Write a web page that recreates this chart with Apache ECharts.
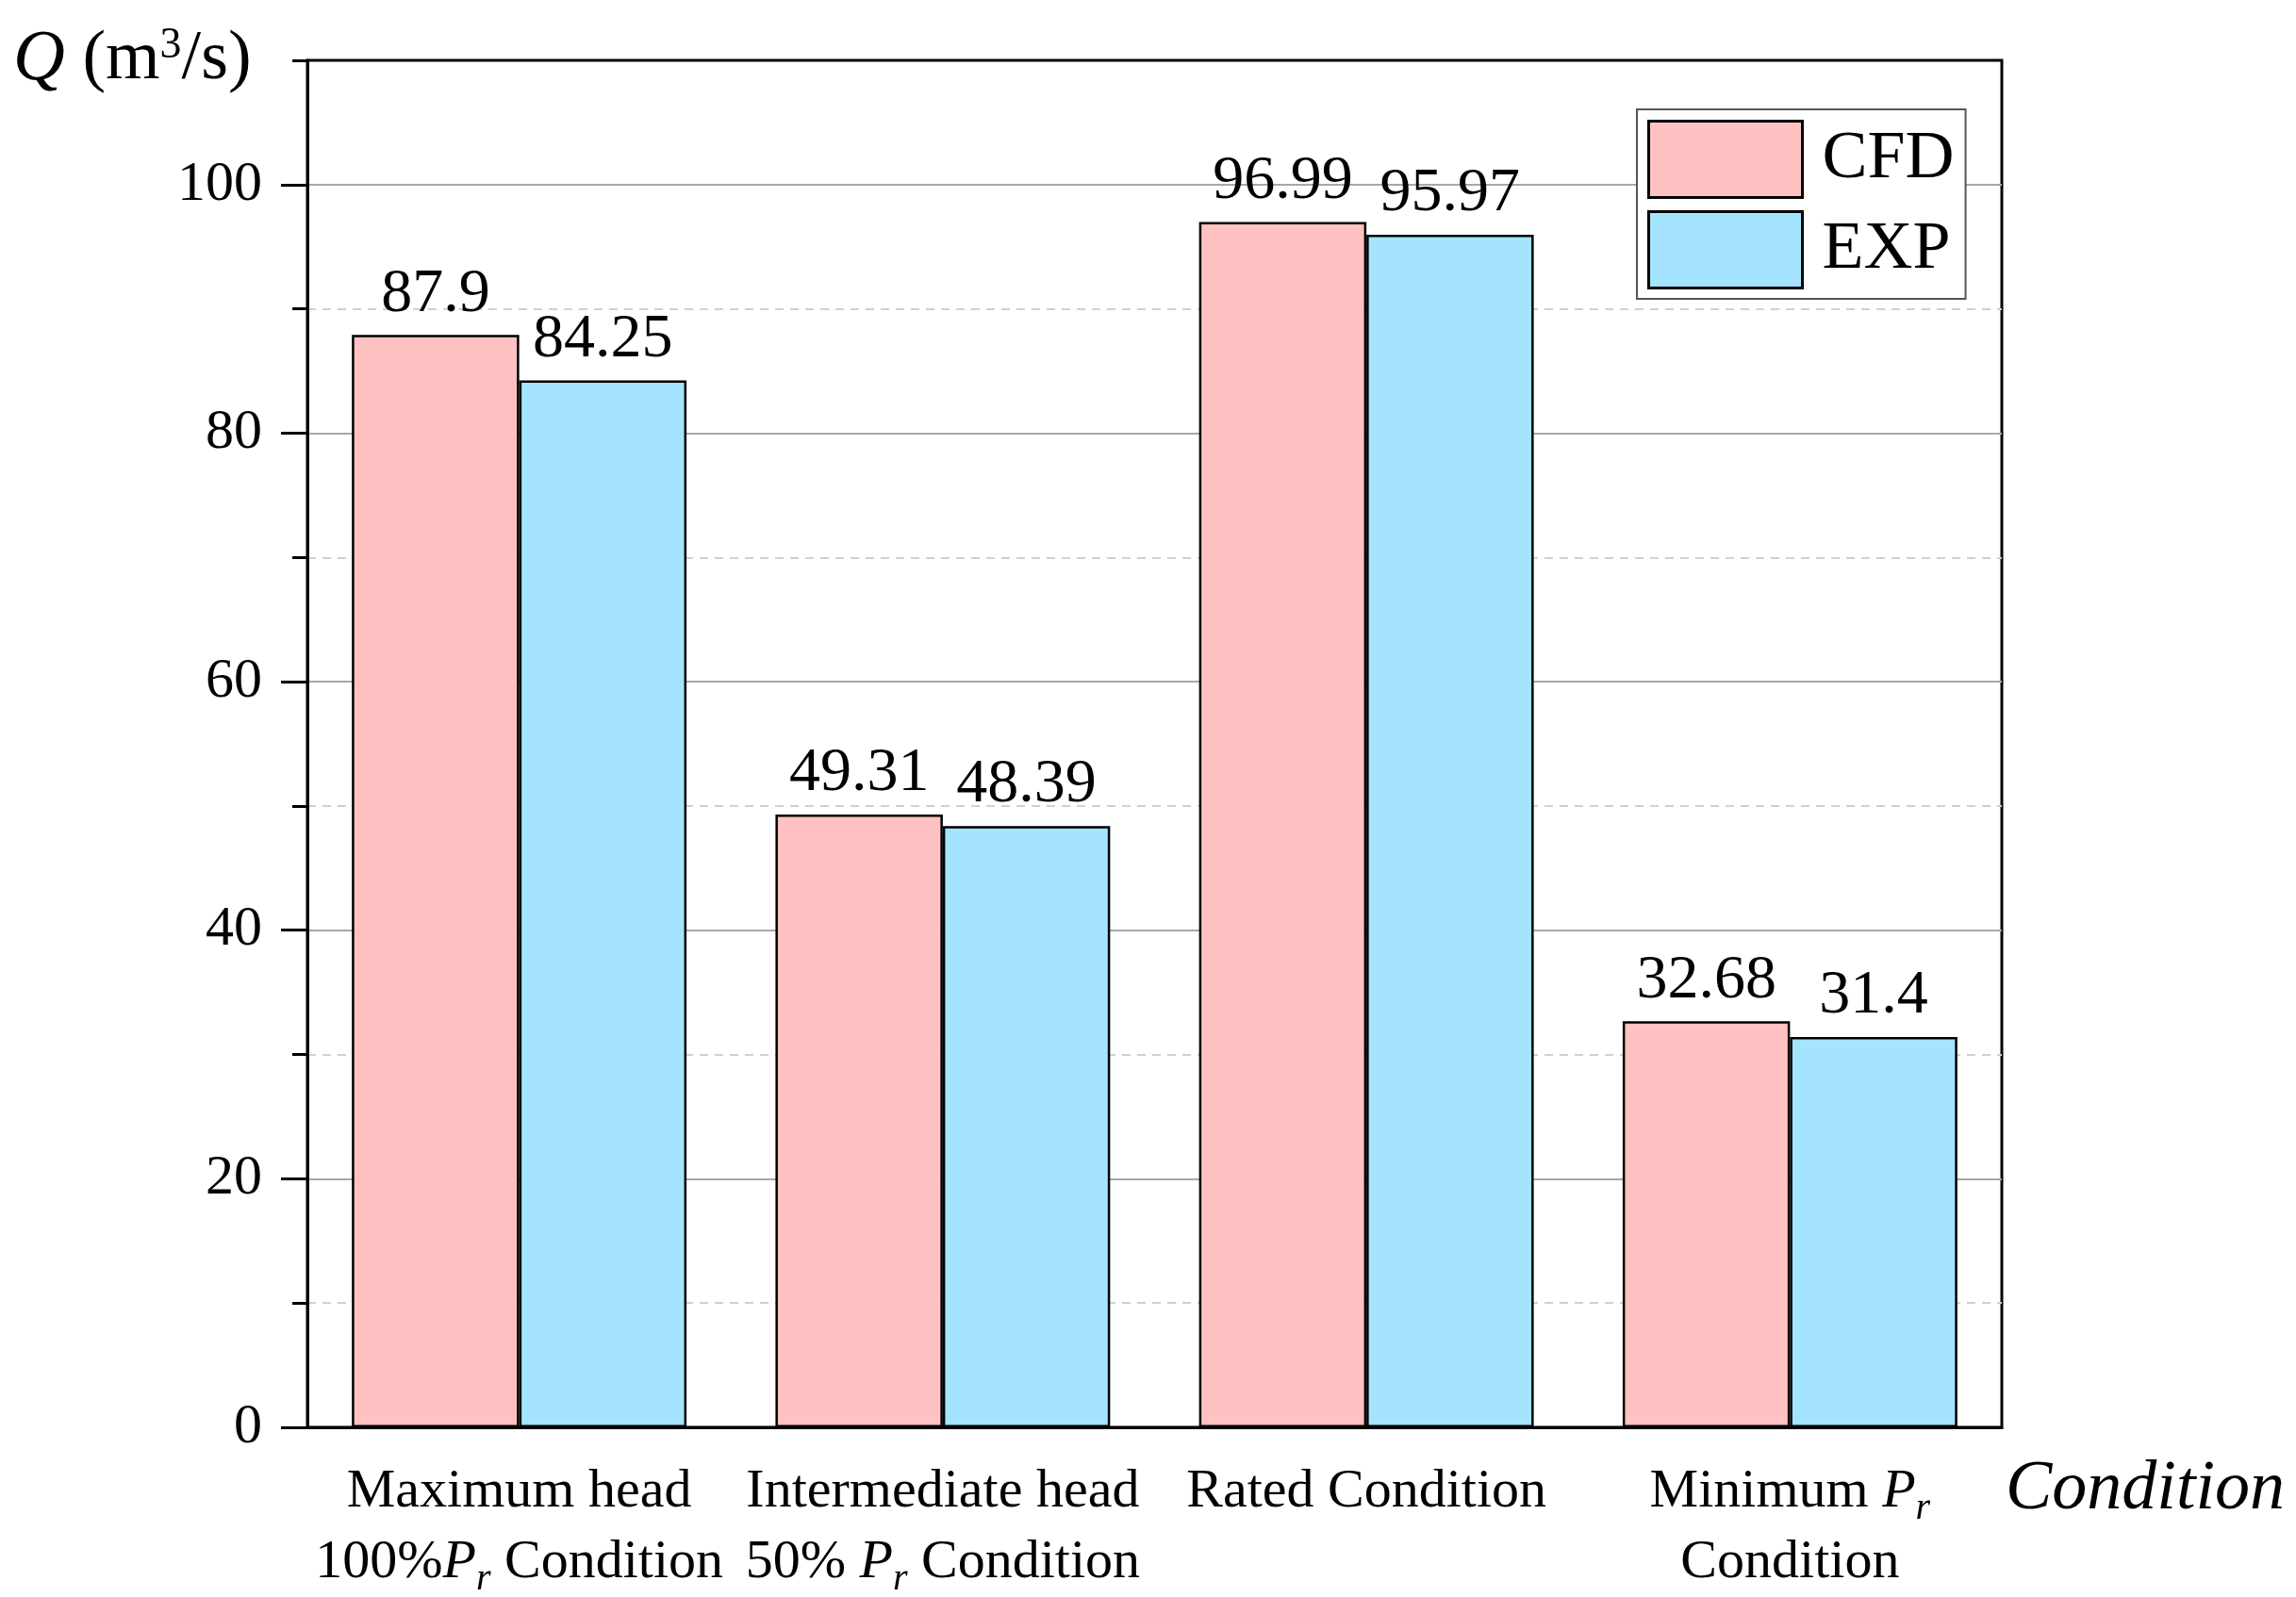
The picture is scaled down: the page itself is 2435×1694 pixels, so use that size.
<!DOCTYPE html>
<html><head><meta charset="utf-8">
<script src="https://cdn.jsdelivr.net/npm/echarts@6/dist/echarts.min.js"></script>
<style>html,body{margin:0;padding:0;background:#fff}#c{width:2435px;height:1694px}</style>
</head><body><div id="c"></div>
<script>
const categories = [
  'Maximum head\n100%{i|P}{sub|r} Condition',
  'Intermediate head\n50% {i|P}{sub|r} Condition',
  'Rated Condition',
  'Minimum {i|P}{sub|r}\nCondition'
];
const seriesNames = ['CFD', 'EXP'];
const cfdValues = [87.9, 49.31, 96.99, 32.68];
const expValues = [84.25, 48.39, 95.97, 31.4];
const yMin = 0, yMax = 110, yMajor = 20, yMinor = 10;

const FONT = '"Liberation Serif", "Times New Roman", serif';
const chart = echarts.init(document.getElementById('c'));
const labelRich = {
  i: {fontFamily: FONT, fontStyle: 'italic', fontSize: 58, color: '#000'},
  sub: {fontFamily: FONT, fontStyle: 'italic', fontSize: 40, color: '#000', verticalAlign: 'bottom', lineHeight: 42}
};
function barSeries(name, data, color) {
  return {
    name, type: 'bar', data,
    barGap: '0%', barCategoryGap: '21%',
    itemStyle: {color, borderColor: '#000', borderWidth: 2.5},
    label: {show: true, position: 'top', distance: 10, color: '#000', fontFamily: FONT, fontSize: 66}
  };
}
chart.setOption({
  backgroundColor: '#fff',
  animation: false,
  grid: {left: 326, right: 312, top: 64, bottom: 180, outerBoundsMode: 'none', containLabel: false,
    show: true, borderColor: '#000', borderWidth: 3, backgroundColor: 'transparent'},
  legend: {
    data: seriesNames, orient: 'vertical', left: 1736, top: 116,
    itemWidth: 163, itemHeight: 81, itemGap: 12, icon: 'rect',
    padding: [11, 12, 10, 11],
    borderColor: '#555', borderWidth: 2, backgroundColor: '#fff',
    itemStyle: {borderColor: '#000', borderWidth: 3},
    textStyle: {fontFamily: FONT, fontSize: 72, color: '#000', padding: [0, 0, 0, 16]}
  },
  xAxis: {
    type: 'category', data: categories,
    axisLine: {lineStyle: {color: '#000', width: 3}},
    axisTick: {alignWithLabel: true, length: 27, lineStyle: {color: '#000', width: 3}},
    axisLabel: {interval: 0, margin: 31, color: '#000', fontFamily: FONT, fontSize: 58, lineHeight: 75, rich: labelRich}
  },
  yAxis: [{
    type: 'value', min: yMin, max: yMax, interval: yMinor, position: 'left',
    axisLine: {show: false},
    axisTick: {show: true, length: 16, lineStyle: {color: '#000', width: 3}},
    axisLabel: {show: false},
    splitLine: {show: true, showMinLine: false, showMaxLine: false, lineStyle: {color: ['#d0d0d0', 'rgba(0,0,0,0)'], width: 2, type: [9, 7]}}
  }, {
    type: 'value', min: yMin, max: yMax, interval: yMajor, position: 'left',
    axisLine: {show: true, lineStyle: {color: '#000', width: 3}},
    axisTick: {show: true, length: 28, lineStyle: {color: '#000', width: 3}},
    axisLabel: {showMaxLabel: false, margin: 48, color: '#000', fontFamily: FONT, fontSize: 60},
    splitLine: {show: true, showMinLine: false, showMaxLine: false, lineStyle: {color: '#a8a8a8', width: 2}}
  }],
  series: [
    Object.assign(barSeries(seriesNames[0], cfdValues, '#FFC1C1'), {yAxisIndex: 1}),
    Object.assign(barSeries(seriesNames[1], expValues, '#A4E4FF'), {yAxisIndex: 1})
  ],
  graphic: [
    {type: 'text', left: 14, top: 26, style: {
      text: '{q|Q} (m{sup|3}/s)', fontFamily: FONT, fontSize: 74, fill: '#000',
      rich: {q: {fontFamily: FONT, fontStyle: 'italic', fontSize: 76}, sup: {fontFamily: FONT, fontSize: 46, verticalAlign: 'top', lineHeight: 40}}
    }},
    {type: 'text', left: 2127, top: 1544, style: {
      text: 'Condition', fontFamily: FONT, fontStyle: 'italic', fontSize: 74, fill: '#000'
    }}
  ]
});
</script></body></html>
